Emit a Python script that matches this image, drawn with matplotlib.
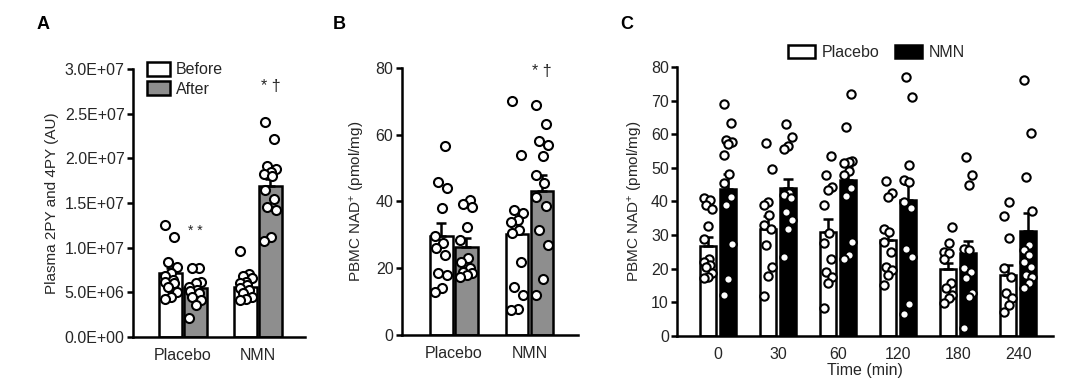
import numpy as np
from matplotlib import pyplot as plt
from matplotlib.ticker import FuncFormatter
from matplotlib.patches import Patch

plt.rcParams['font.family'] = ['Liberation Sans', 'DejaVu Sans']
plt.rcParams['mathtext.default'] = 'regular'
plt.rcParams['text.color'] = '#262626'
plt.rcParams['axes.labelcolor'] = '#262626'
plt.rcParams['xtick.labelcolor'] = '#262626'
plt.rcParams['ytick.labelcolor'] = '#262626'

# ---- panel A: plasma 2PY + 4PY (units of 1e7 AU)
groups_ab = ['Placebo', 'NMN']
a_mean = [[0.72, 0.545], [0.56, 1.69]]  # [group][before, after]
a_sem = [[0.05, 0.04], [0.03, 0.08]]
a_pts = [
    [[1.25, 1.12, 0.84, 0.78, 0.72, 0.68, 0.64, 0.60, 0.62, 0.56, 0.50, 0.45, 0.42],
     [0.77, 0.77, 0.62, 0.60, 0.56, 0.53, 0.52, 0.49, 0.45, 0.41, 0.36, 0.21]],
    [[0.96, 0.71, 0.68, 0.66, 0.62, 0.60, 0.58, 0.55, 0.53, 0.49, 0.45, 0.43, 0.41],
     [2.41, 2.22, 1.91, 1.88, 1.85, 1.83, 1.80, 1.65, 1.55, 1.46, 1.42, 1.12, 1.07]],
]

# ---- panel B: PBMC NAD+ before / after
b_mean = [[29.7, 26.5], [30.2, 43.2]]
b_sem = [[3.8, 2.5], [4.0, 4.8]]
b_pts = [
    [[56.7, 45.7, 44.0, 38.0, 29.7, 27.7, 26.0, 24.0, 18.5, 18.0, 14.0, 13.0],
     [40.5, 39.3, 38.5, 32.5, 28.5, 23.0, 22.0, 20.0, 19.0, 18.5, 18.0, 17.3]],
    [[70.0, 54.0, 37.5, 36.5, 34.5, 34.0, 31.5, 30.7, 22.0, 14.5, 12.0, 7.8, 7.5],
     [69.0, 63.3, 58.0, 57.0, 53.7, 48.0, 45.5, 41.3, 38.7, 31.5, 27.0, 16.7, 12.0]],
]

# ---- panel C: time course
times = ['0', '30', '60', '120', '180', '240']
c_plac_mean = [26.7, 31.7, 30.8, 28.5, 19.8, 18.1]
c_plac_sem = [2.6, 3.9, 4.0, 3.0, 2.0, 3.0]
c_nmn_mean = [43.6, 43.9, 46.3, 40.4, 24.6, 31.3]
c_nmn_sem = [4.7, 2.9, 4.3, 4.9, 3.7, 5.3]
c_plac_pts = [
    [41.0, 40.4, 38.9, 37.9, 32.7, 28.7, 23.0, 22.0, 21.0, 20.6, 18.6, 17.6, 17.1],
    [57.5, 49.6, 39.9, 38.9, 35.9, 33.0, 31.7, 27.0, 20.6, 17.8, 11.9],
    [53.6, 47.8, 44.2, 43.4, 39.0, 30.5, 27.7, 23.0, 19.1, 17.6, 15.6, 8.2],
    [46.1, 42.6, 41.4, 31.8, 31.0, 28.0, 25.0, 20.6, 19.6, 18.1, 15.1],
    [32.5, 27.5, 25.0, 24.6, 22.8, 15.6, 14.2, 12.2, 11.2, 9.7],
    [39.9, 35.6, 29.0, 20.1, 17.6, 12.7, 11.2, 9.2, 7.2],
]
c_nmn_pts = [
    [68.9, 63.4, 58.2, 57.7, 57.0, 53.8, 48.1, 45.5, 41.2, 38.9, 27.3, 17.0, 12.2],
    [63.2, 59.2, 56.5, 55.7, 42.6, 41.9, 40.9, 36.9, 34.5, 31.9, 23.6],
    [71.9, 62.2, 52.0, 51.8, 51.5, 49.1, 48.0, 43.9, 41.6, 28.0, 24.1, 22.8],
    [77.2, 71.1, 50.8, 46.3, 45.8, 39.9, 38.2, 26.0, 23.6, 9.5, 6.5],
    [53.3, 47.8, 44.9, 26.0, 25.5, 20.1, 19.1, 17.1, 12.7, 11.7, 2.3],
    [76.3, 60.4, 47.3, 37.2, 27.0, 25.7, 24.0, 22.0, 20.6, 18.1, 17.6, 15.8, 14.2],
]

GRAY = '#8e8e8e'
LW = 1.8
FS = 11.5


def style_ax(ax):
    for s in ['top', 'right']:
        ax.spines[s].set_visible(False)
    for s in ['left', 'bottom']:
        ax.spines[s].set_linewidth(LW)
    ax.tick_params(axis='y', width=LW, length=4, labelsize=FS, pad=2)
    ax.tick_params(axis='x', length=0, labelsize=FS, pad=8)


def bar_with_points(ax, x, h, err, pts, color, w, spread, ms=6.5):
    ax.bar(x, h, width=w, color=color, edgecolor='black', linewidth=LW, zorder=2)
    ax.errorbar(x, h, yerr=[[0], [err]], fmt='none', ecolor='black',
                elinewidth=LW, capsize=3.5, capthick=LW, zorder=3)
    pts = np.asarray(pts)
    order = np.argsort(pts)
    offs = np.zeros(len(pts))
    pattern = [-1, 0.1, 1, -0.5, 0.6, -0.9, 0.3]
    for k, i in enumerate(order):
        offs[i] = pattern[k % len(pattern)] * spread
    ax.plot(x + offs, pts, 'o', mfc='white', mec='black', mew=1.5,
            ms=ms, zorder=4, clip_on=False)


fig = plt.figure(figsize=(10.8, 3.86), dpi=100)

# ---------------- A
axA = fig.add_axes([0.123, 0.127, 0.159, 0.694])
style_ax(axA)
w = 0.31
off = 0.165
for g in range(2):
    bar_with_points(axA, g - off, a_mean[g][0], a_sem[g][0], a_pts[g][0], 'white', w, 0.08)
    bar_with_points(axA, g + off, a_mean[g][1], a_sem[g][1], a_pts[g][1], GRAY, w, 0.08)
axA.set_xlim(-0.67, 1.62)
axA.set_ylim(0, 3.0)
axA.set_yticks(np.arange(0, 3.01, 0.5))
axA.yaxis.set_major_formatter(FuncFormatter(lambda v, p: '{:.1E}'.format(v * 1e7)))
axA.set_xticks(range(2))
axA.set_xticklabels(groups_ab)
axA.set_ylabel('Plasma 2PY and 4PY (AU)', fontsize=11, labelpad=4)
axA.text(off, 1.19, '* *', ha='center', va='center', fontsize=10)
axA.text(1 + off, 2.8, '* \u2020', ha='center', va='center', fontsize=11.5)
axA.legend(handles=[Patch(facecolor='white', edgecolor='black', linewidth=LW, label='Before'),
                    Patch(facecolor=GRAY, edgecolor='black', linewidth=LW, label='After')],
           loc='upper left', bbox_to_anchor=(0.02, 1.07), frameon=False, fontsize=FS,
           handlelength=1.4, handleheight=1.0, handletextpad=0.4, labelspacing=0.25,
           borderpad=0.2)
fig.text(0.034, 0.925, 'A', fontsize=13, fontweight='bold', color='black')

# ---------------- B
axB = fig.add_axes([0.372, 0.132, 0.163, 0.692])
style_ax(axB)
w = 0.30
for g in range(2):
    bar_with_points(axB, g - off, b_mean[g][0], b_sem[g][0], b_pts[g][0], 'white', w, 0.08)
    bar_with_points(axB, g + off, b_mean[g][1], b_sem[g][1], b_pts[g][1], GRAY, w, 0.08)
axB.set_xlim(-0.69, 1.64)
axB.set_ylim(0, 80)
axB.set_yticks(np.arange(0, 81, 20))
axB.set_xticks(range(2))
axB.set_xticklabels(groups_ab)
axB.set_ylabel('PBMC NAD$^{+}$ (pmol/mg)', fontsize=11, labelpad=6)
axB.text(1 + off, 79, '* \u2020', ha='center', va='center', fontsize=11.5)
fig.text(0.308, 0.925, 'B', fontsize=13, fontweight='bold', color='black')

# ---------------- C
axC = fig.add_axes([0.627, 0.130, 0.348, 0.696])
style_ax(axC)
x = np.arange(len(times))
w = 0.27
off = 0.167
for i in range(len(times)):
    bar_with_points(axC, x[i] - off, c_plac_mean[i], c_plac_sem[i], c_plac_pts[i], 'white', w, 0.07, ms=6)
    bar_with_points(axC, x[i] + off, c_nmn_mean[i], c_nmn_sem[i], c_nmn_pts[i], 'black', w, 0.07, ms=6)
axC.set_xlim(-0.68, 5.58)
axC.set_ylim(0, 80)
axC.set_yticks(np.arange(0, 81, 10))
axC.set_xticks(x)
axC.set_xticklabels(times)
axC.set_xlabel('Time (min)', fontsize=FS, labelpad=1)
axC.set_ylabel('PBMC NAD$^{+}$ (pmol/mg)', fontsize=11, labelpad=4)
axC.legend(handles=[Patch(facecolor='white', edgecolor='black', linewidth=LW, label='Placebo'),
                    Patch(facecolor='black', edgecolor='black', linewidth=LW, label='NMN')],
           loc='lower center', bbox_to_anchor=(0.53, 0.99), ncol=2, frameon=False,
           fontsize=FS, handlelength=1.7, handleheight=0.9, handletextpad=0.4,
           columnspacing=1.0, borderpad=0.1)
fig.text(0.574, 0.925, 'C', fontsize=13, fontweight='bold', color='black')

fig.savefig('out.png', dpi=100, facecolor='white')
